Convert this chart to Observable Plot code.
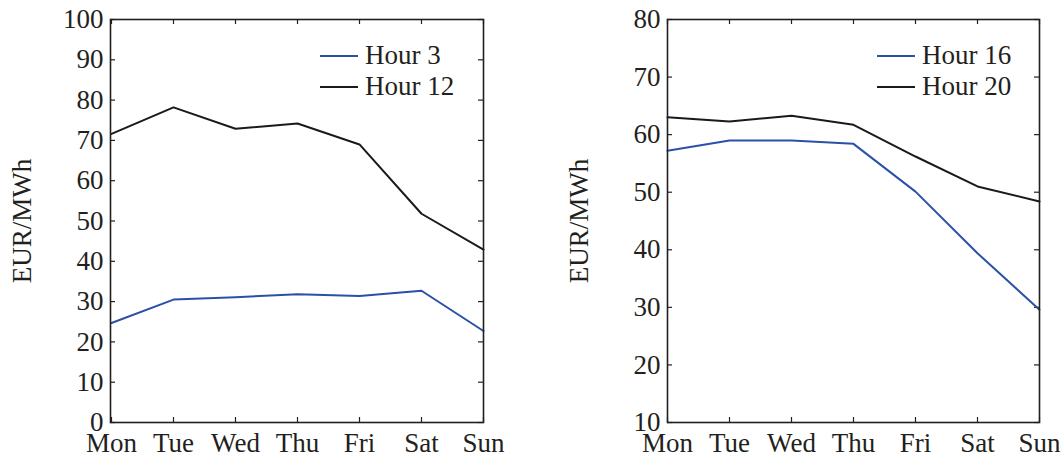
<!DOCTYPE html>
<html><head><meta charset="utf-8">
<script src="https://cdn.jsdelivr.net/npm/d3@7"></script>
<script src="https://cdn.jsdelivr.net/npm/@observablehq/plot@0.6"></script>
<style>
body{margin:0;background:#fff}
#wrap{position:relative;width:1062px;height:456px;display:flex;overflow:hidden}
.leg{position:absolute;font-family:"Liberation Serif",serif;font-size:27px;color:#231f20;line-height:31px}
.leg div{display:flex;align-items:center;height:31px}
.leg span.sw{display:inline-block;width:38px;height:2px;margin-right:7px}
</style>
</head><body><div id="wrap"></div>
<script>
const days = ["Mon","Tue","Wed","Thu","Fri","Sat","Sun"];
const hour3  = [24.7,30.5,31.1,31.8,31.4,32.7,22.7];
const hour12 = [71.6,78.2,72.9,74.2,69.0,51.8,42.9];
const hour16 = [57.2,59.0,59.0,58.4,50.1,39.4,29.6];
const hour20 = [63.0,62.3,63.3,61.7,56.2,51.0,48.4];
const leftTicks = [0,10,20,30,40,50,60,70,80,90,100];
const rightTicks = [10,20,30,40,50,60,70,80];
const leftNames = ["Hour 3","Hour 12"];
const rightNames = ["Hour 16","Hour 20"];
const seriesColors = ["#2b50a8","#1a1a1a"];
const yLabel = "EUR/MWh";

const W = 531, H = 456, MT = 19, MB = 34;
const ink = "#231f20";
const FS = 27;

function panel(seriesList, names, domain, ticks, ml, mr) {
  const rows = [];
  seriesList.forEach((vals, si) => vals.forEach((v, i) => rows.push({day: days[i], value: v, series: names[si]})));
  const pw = W - ml - mr, ph = H - MT - MB;
  return Plot.plot({
    width: W, height: H, marginLeft: ml, marginRight: mr, marginTop: MT, marginBottom: MB,
    style: {fontFamily: "'Liberation Serif', serif", fontSize: FS + "px", color: ink, background: "white", overflow: "visible"},
    x: {type: "point", domain: days, padding: 0},
    y: {domain, ticks},
    color: {domain: names, range: seriesColors},
    marks: [
      Plot.axisX({tickSize: 0, tickPadding: 10, fontSize: FS, label: null, fill: ink}),
      Plot.axisY({ticks, tickSize: 0, tickPadding: 7, fontSize: FS, label: null, fill: ink}),
      Plot.tickY(ticks, {y: d => d, insetRight: pw - 5, stroke: ink, strokeWidth: 1.2}),
      Plot.tickY(ticks, {y: d => d, insetLeft: pw - 5, stroke: ink, strokeWidth: 1.2}),
      Plot.tickX(days, {x: d => d, insetBottom: ph - 5, stroke: ink, strokeWidth: 1.2}),
      Plot.tickX(days, {x: d => d, insetTop: ph - 5, stroke: ink, strokeWidth: 1.2}),
      Plot.line(rows, {x: "day", y: "value", stroke: "series", z: "series", strokeWidth: 2}),
      Plot.frame({stroke: ink, strokeWidth: 1.6}),
      Plot.text([yLabel], {frameAnchor: "left", textAnchor: "middle", dx: -88, rotate: -90, fontSize: FS, fill: ink, text: d => d})
    ]
  });
}

const wrap = document.getElementById("wrap");
wrap.append(panel([hour3, hour12], leftNames, [0, 100], leftTicks, 110, 48));
wrap.append(panel([hour16, hour20], rightNames, [10, 80], rightTicks, 136, 23));

function legend(names, left) {
  const d = document.createElement("div");
  d.className = "leg";
  d.style.left = left + "px";
  d.style.top = "40px";
  names.forEach((n, i) => {
    const row = document.createElement("div");
    const sw = document.createElement("span");
    sw.className = "sw";
    sw.style.background = seriesColors[i];
    row.append(sw, document.createTextNode(n));
    d.append(row);
  });
  wrap.append(d);
}
legend(leftNames, 320);
legend(rightNames, 877);
</script>
</body></html>
